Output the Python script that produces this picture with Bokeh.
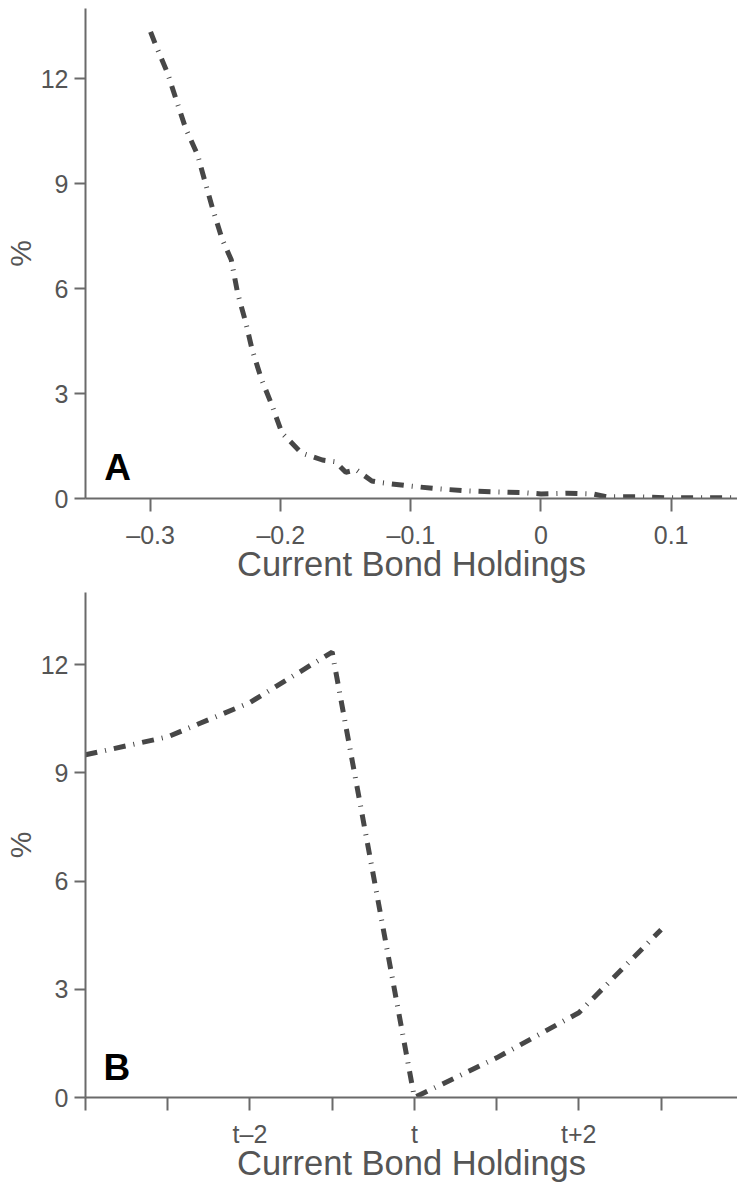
from bokeh.plotting import figure
from bokeh.layouts import column
from bokeh.models import Range1d, FixedTicker, Label
from bokeh.embed import file_html
from bokeh.resources import INLINE

# ---- data ----
a_x = [-0.300, -0.296, -0.287, -0.280, -0.273, -0.264, -0.258, -0.252, -0.245, -0.238,
       -0.233, -0.227, -0.222, -0.215, -0.207, -0.199, -0.184, -0.168, -0.158, -0.150,
       -0.142, -0.130, -0.122, -0.102, -0.080, -0.058, -0.036, -0.014, 0.000, 0.020,
       0.040, 0.050, 0.075, 0.098, 0.120, 0.150]
a_y = [13.33, 12.95, 12.16, 11.36, 10.57, 9.83, 9.03, 8.24, 7.41, 6.82,
       5.85, 5.05, 4.26, 3.43, 2.69, 1.87, 1.30, 1.10, 1.05, 0.75,
       0.82, 0.50, 0.45, 0.36, 0.28, 0.22, 0.19, 0.17, 0.13, 0.15,
       0.13, 0.05, 0.05, 0.02, 0.02, 0.02]

b_x = [-4, -3, -2, -1, 0, 1, 2, 3]
b_y = [9.5, 10.0, 10.95, 12.35, 0.0, 1.1, 2.35, 4.65]

a_xticks = [-0.3, -0.2, -0.1, 0.0, 0.1]
a_xlabels = ["\u20130.3", "\u20130.2", "\u20130.1", "0", "0.1"]
b_xticks = [-4, -3, -2, -1, 0, 1, 2, 3]
b_xlabels = ["", "", "t\u20132", "", "t", "", "t+2", ""]
yticks = [0, 3, 6, 9, 12]
x_title = "Current Bond Holdings"
y_title = "%"

LINE = "#474747"
AX = "#6a6a6a"
TXT = "#555555"
FONT = "Liberation Sans"


def style(p, xticks, xlabels):
    p.xgrid.visible = False
    p.ygrid.visible = False
    p.outline_line_color = None
    p.background_fill_color = "white"
    p.border_fill_color = "white"
    for ax in (p.xaxis[0], p.yaxis[0]):
        ax.axis_line_color = AX
        ax.axis_line_width = 2
        ax.major_tick_line_color = AX
        ax.major_tick_line_width = 2
        ax.major_tick_in = 0
        ax.minor_tick_line_color = None
        ax.major_label_text_color = TXT
        ax.major_label_text_font = FONT
        ax.major_label_text_font_size = "25px"
        ax.axis_label_text_color = TXT
        ax.axis_label_text_font = FONT
        ax.axis_label_text_font_style = "normal"
    p.xaxis[0].major_tick_out = 13
    p.yaxis[0].major_tick_out = 11
    p.xaxis[0].ticker = FixedTicker(ticks=xticks)
    p.xaxis[0].major_label_overrides = {t: l for t, l in zip(xticks, xlabels)}
    p.xaxis[0].major_label_standoff = 9
    p.xaxis[0].axis_label = x_title
    p.xaxis[0].axis_label_text_font_size = "34.5px"
    p.xaxis[0].axis_label_standoff = -7
    p.yaxis[0].ticker = FixedTicker(ticks=yticks)
    p.yaxis[0].major_label_standoff = 6
    p.yaxis[0].axis_label = y_title
    p.yaxis[0].axis_label_text_font_size = "30px"
    p.yaxis[0].axis_label_standoff = 1


pa = figure(width=737, height=592, output_backend="svg", toolbar_location=None,
            x_range=Range1d(-0.35, 0.151), y_range=Range1d(0, 14),
            min_border_left=76, min_border_right=0, min_border_top=8, min_border_bottom=94)
style(pa, a_xticks, a_xlabels)
pa.line(a_x, a_y, line_color=LINE, line_width=5, line_dash="12 8 1 8")
pa.add_layout(Label(x=-0.3355, y=0.29, text="A", text_font=FONT, text_font_style="bold",
                    text_font_size="37px", text_color="black"))

pb = figure(width=737, height=592, output_backend="svg", toolbar_location=None,
            x_range=Range1d(-4, 3.93), y_range=Range1d(0, 14),
            min_border_left=76, min_border_right=0, min_border_top=0, min_border_bottom=82)
style(pb, b_xticks, b_xlabels)
pb.line(b_x, b_y, line_color=LINE, line_width=5, line_dash="12 8 1 8")
pb.add_layout(Label(x=-3.78, y=0.27, text="B", text_font=FONT, text_font_style="bold",
                    text_font_size="37px", text_color="black"))

layout = column(pa, pb, spacing=0)
open("out.html", "w").write(file_html(layout, INLINE))
